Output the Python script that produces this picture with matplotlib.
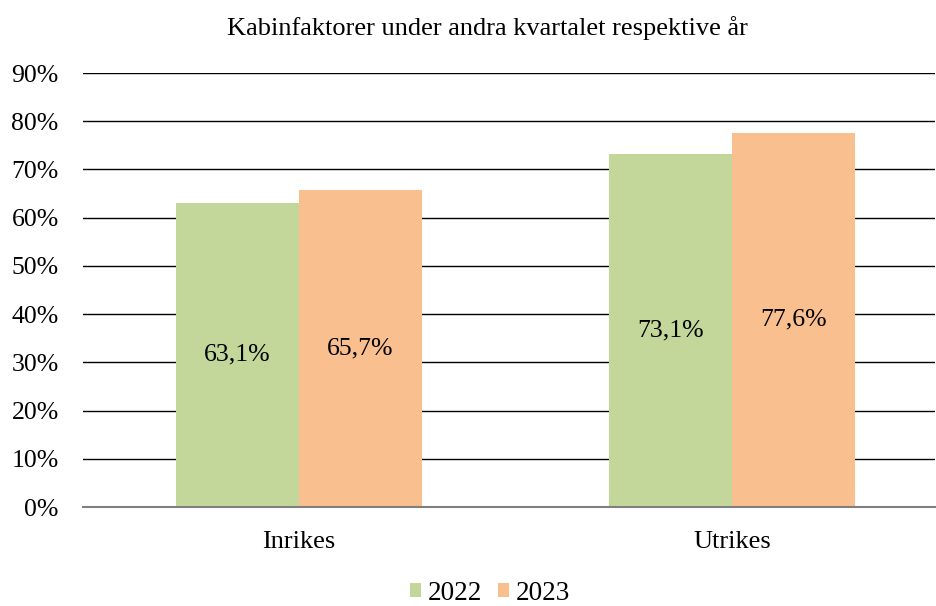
import numpy as np
import matplotlib.pyplot as plt

plt.rcParams['font.family'] = ['Liberation Serif', 'DejaVu Serif']

categories = ['Inrikes', 'Utrikes']
years = ['2022', '2023']
values_2022 = [63.1, 73.1]
values_2023 = [65.7, 77.6]
labels_2022 = ['63,1%', '73,1%']
labels_2023 = ['65,7%', '77,6%']
yticks = [0, 10, 20, 30, 40, 50, 60, 70, 80, 90]
colors = ['#C4D79B', '#FABF8F']

fig = plt.figure(figsize=(9.36, 6.06), dpi=100)
ax = fig.add_axes([83 / 936, 99 / 606, (935 - 83) / 936, (507 - 73) / 606])

x = np.arange(len(categories))
w = 0.284
b1 = ax.bar(x - w / 2, values_2022, w, color=colors[0], label=years[0], zorder=3)
b2 = ax.bar(x + w / 2, values_2023, w, color=colors[1], label=years[1], zorder=3)

for bars, labs in [(b1, labels_2022), (b2, labels_2023)]:
    for rect, lab in zip(bars, labs):
        ax.text(rect.get_x() + rect.get_width() / 2, rect.get_height() / 2, lab,
                ha='center', va='center', fontsize=18.5, zorder=4)

ax.set_ylim(0, 90)
ax.set_xlim(-0.499, 1.469)
ax.set_yticks(yticks)
ax.set_yticklabels([f'{t}%' for t in yticks], fontsize=18.5)
ax.set_xticks(x)
ax.set_xticklabels(categories, fontsize=19)
ax.tick_params(length=0)
ax.tick_params(axis='y', pad=17.5)
ax.tick_params(axis='x', pad=17)
ax.yaxis.grid(True, color='black', lw=1.0, zorder=0)
for s in ['top', 'right', 'left']:
    ax.spines[s].set_visible(False)
ax.spines['bottom'].set_color('#7f7f7f')
ax.spines['bottom'].set_linewidth(1.5)
ax.spines['bottom'].set_zorder(5)

fig.text(487 / 936, 1 - 28 / 606, 'Kabinfaktorer under andra kvartalet respektive år',
         ha='center', va='center', fontsize=19)

fig.legend(loc='center', bbox_to_anchor=(490 / 936, 1 - 593 / 606), ncol=2, frameon=False,
           fontsize=19.5, handlelength=0.4, handleheight=0.4, handletextpad=0.25,
           columnspacing=0.6)

fig.savefig('out.png', dpi=100)
